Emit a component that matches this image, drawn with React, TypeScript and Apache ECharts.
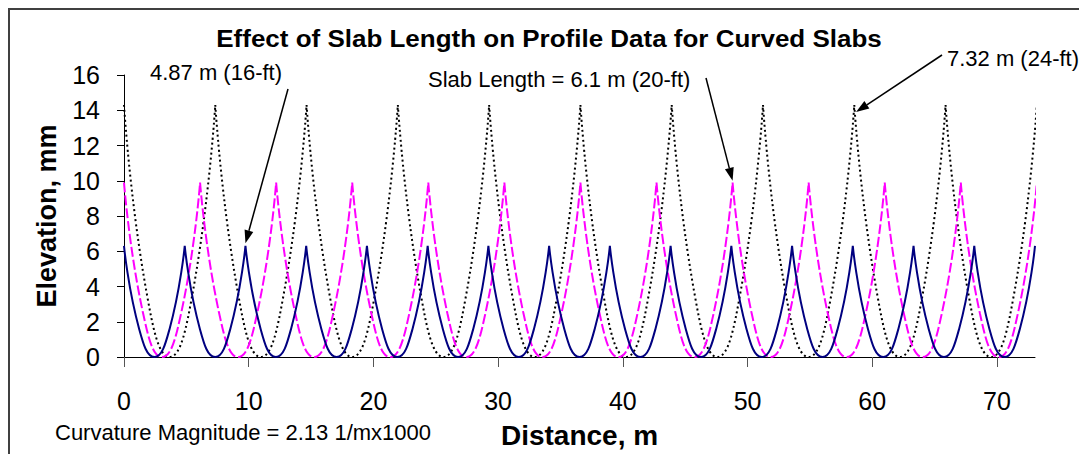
import React, { useEffect, useRef } from 'react';
import * as echarts from 'echarts';

const FONT = '"Liberation Sans", Arial, sans-serif';

const titleText = 'Effect of Slab Length on Profile Data for Curved Slabs';
const xName = 'Distance, m';
const yName = 'Elevation, mm';
const xTicks = [0, 10, 20, 30, 40, 50, 60, 70];

// Slab length 4.87 m (16-ft): one segment per slab, null breaks between slabs
const profile16 = [
  [0, 6.3], [1.22, 1.58], [2.44, 0], [3.65, 1.58], [4.87, 6.3], [4.87, null],
  [4.87, 6.3], [6.09, 1.58], [7.31, 0], [8.52, 1.58], [9.74, 6.3], [9.74, null],
  [9.74, 6.3], [10.96, 1.58], [12.18, 0], [13.39, 1.58], [14.61, 6.3], [14.61, null],
  [14.61, 6.3], [15.83, 1.58], [17.05, 0], [18.26, 1.58], [19.48, 6.3], [19.48, null],
  [19.48, 6.3], [20.7, 1.58], [21.92, 0], [23.13, 1.58], [24.35, 6.3], [24.35, null],
  [24.35, 6.3], [25.57, 1.58], [26.79, 0], [28.0, 1.58], [29.22, 6.3], [29.22, null],
  [29.22, 6.3], [30.44, 1.58], [31.66, 0], [32.87, 1.58], [34.09, 6.3], [34.09, null],
  [34.09, 6.3], [35.31, 1.58], [36.53, 0], [37.74, 1.58], [38.96, 6.3], [38.96, null],
  [38.96, 6.3], [40.18, 1.58], [41.4, 0], [42.61, 1.58], [43.83, 6.3], [43.83, null],
  [43.83, 6.3], [45.05, 1.58], [46.27, 0], [47.48, 1.58], [48.7, 6.3], [48.7, null],
  [48.7, 6.3], [49.92, 1.58], [51.14, 0], [52.35, 1.58], [53.57, 6.3], [53.57, null],
  [53.57, 6.3], [54.79, 1.58], [56.01, 0], [57.22, 1.58], [58.44, 6.3], [58.44, null],
  [58.44, 6.3], [59.66, 1.58], [60.88, 0], [62.09, 1.58], [63.31, 6.3], [63.31, null],
  [63.31, 6.3], [64.53, 1.58], [65.75, 0], [66.96, 1.58], [68.18, 6.3], [68.18, null],
  [68.18, 6.3], [69.4, 1.58], [70.62, 0], [71.83, 1.58], [73.05, 6.3],
];

// Slab length 6.1 m (20-ft)
const profile20 = [
  [0, 9.9], [1.53, 2.48], [3.05, 0], [4.58, 2.48], [6.1, 9.9], [6.1, null],
  [6.1, 9.9], [7.63, 2.48], [9.15, 0], [10.68, 2.48], [12.2, 9.9], [12.2, null],
  [12.2, 9.9], [13.73, 2.48], [15.25, 0], [16.78, 2.48], [18.3, 9.9], [18.3, null],
  [18.3, 9.9], [19.83, 2.48], [21.35, 0], [22.88, 2.48], [24.4, 9.9], [24.4, null],
  [24.4, 9.9], [25.93, 2.48], [27.45, 0], [28.98, 2.48], [30.5, 9.9], [30.5, null],
  [30.5, 9.9], [32.03, 2.48], [33.55, 0], [35.08, 2.48], [36.6, 9.9], [36.6, null],
  [36.6, 9.9], [38.13, 2.48], [39.65, 0], [41.18, 2.48], [42.7, 9.9], [42.7, null],
  [42.7, 9.9], [44.23, 2.48], [45.75, 0], [47.28, 2.48], [48.8, 9.9], [48.8, null],
  [48.8, 9.9], [50.33, 2.48], [51.85, 0], [53.38, 2.48], [54.9, 9.9], [54.9, null],
  [54.9, 9.9], [56.43, 2.48], [57.95, 0], [59.48, 2.48], [61.0, 9.9], [61.0, null],
  [61.0, 9.9], [62.53, 2.48], [64.05, 0], [65.58, 2.48], [67.1, 9.9], [67.1, null],
  [67.1, 9.9], [68.63, 2.48], [70.15, 0], [71.68, 2.48], [73.2, 9.9],
];

// Slab length 7.32 m (24-ft)
const profile24 = [
  [0, 14.3], [1.83, 3.58], [3.66, 0], [5.49, 3.58], [7.32, 14.3], [7.32, null],
  [7.32, 14.3], [9.15, 3.58], [10.98, 0], [12.81, 3.58], [14.64, 14.3], [14.64, null],
  [14.64, 14.3], [16.47, 3.58], [18.3, 0], [20.13, 3.58], [21.96, 14.3], [21.96, null],
  [21.96, 14.3], [23.79, 3.58], [25.62, 0], [27.45, 3.58], [29.28, 14.3], [29.28, null],
  [29.28, 14.3], [31.11, 3.58], [32.94, 0], [34.77, 3.58], [36.6, 14.3], [36.6, null],
  [36.6, 14.3], [38.43, 3.58], [40.26, 0], [42.09, 3.58], [43.92, 14.3], [43.92, null],
  [43.92, 14.3], [45.75, 3.58], [47.58, 0], [49.41, 3.58], [51.24, 14.3], [51.24, null],
  [51.24, 14.3], [53.07, 3.58], [54.9, 0], [56.73, 3.58], [58.56, 14.3], [58.56, null],
  [58.56, 14.3], [60.39, 3.58], [62.22, 0], [64.05, 3.58], [65.88, 14.3], [65.88, null],
  [65.88, 14.3], [67.71, 3.58], [69.54, 0], [71.37, 3.58], [73.2, 14.3],
];

const annotations = [
  { text: '4.87 m (16-ft)', x: 142, y: 64.5, from: [280, 81], tip: [9.74, 6.45] },
  { text: 'Slab Length = 6.1 m (20-ft)', x: 420, y: 71.5, from: [698, 70], tip: [48.8, 10.0] },
  { text: '7.32 m (24-ft)', x: 939, y: 50, from: [934, 47], tip: [58.7, 13.9] },
];
const noteText = 'Curvature Magnitude = 2.13 1/mx1000';

export default function App() {
  const ref = useRef<HTMLDivElement>(null);
  useEffect(() => {
    const chart = echarts.init(ref.current!, null, { renderer: 'svg' });
    const lineCommon = { type: 'line', showSymbol: false, symbol: 'none', smooth: 0.5, connectNulls: false, silent: true };
    chart.setOption({
      animation: false,
      backgroundColor: '#fff',
      textStyle: { fontFamily: FONT },
      grid: { left: 116, top: 67, width: 911, height: 285, containLabel: false },
      xAxis: {
        type: 'value', min: 0, max: 73.05, interval: 10,
        name: xName, nameLocation: 'middle', nameGap: 64,
        nameTextStyle: { fontSize: 28, fontWeight: 'bold', color: '#000', fontFamily: FONT },
        axisLine: { show: true, onZero: false, lineStyle: { color: '#000', width: 1 } },
        axisTick: { show: true, length: 10, customValues: xTicks, lineStyle: { color: '#555', width: 1 } },
        axisLabel: { fontSize: 25, color: '#000', margin: 31, customValues: xTicks, fontFamily: FONT },
        splitLine: { show: false },
      },
      yAxis: {
        type: 'value', min: 0, max: 16, interval: 2,
        name: yName, nameLocation: 'middle', nameGap: 64,
        nameTextStyle: { fontSize: 27, fontWeight: 'bold', color: '#000', fontFamily: FONT },
        axisLine: { show: true, lineStyle: { color: '#000', width: 1 } },
        axisTick: { show: true, length: 7, lineStyle: { color: '#000', width: 1 } },
        axisLabel: { fontSize: 25, color: '#000', margin: 24, fontFamily: FONT },
        splitLine: { show: false },
      },
      series: [
        { ...lineCommon, name: '7.32 m', data: profile24, lineStyle: { color: '#000', width: 2, type: [2, 3] } },
        { ...lineCommon, name: '6.1 m', data: profile20, lineStyle: { color: '#FF00FF', width: 2, type: [10, 3] } },
        { ...lineCommon, name: '4.87 m', data: profile16, lineStyle: { color: '#000080', width: 2, type: 'solid' } },
      ],
    });

    const graphics: any[] = [
      {
        type: 'rect', silent: true, z: 100,
        shape: { x: 1, y: 1, width: 1200, height: 600 },
        style: { fill: 'none', stroke: '#404040', lineWidth: 2 },
      },
      {
        type: 'text', x: 541, y: 31, scaleX: 1.13, z: 100,
        style: { text: titleText, fontSize: 23, fontWeight: 'bold', fontFamily: FONT, fill: '#000', align: 'center', verticalAlign: 'middle' },
      },
      {
        type: 'text', x: 47, y: 424, z: 100,
        style: { text: noteText, fontSize: 22, fontFamily: FONT, fill: '#000', align: 'left', verticalAlign: 'middle' },
      },
    ];
    annotations.forEach((a) => {
      graphics.push({
        type: 'text', x: a.x, y: a.y, z: 100,
        style: { text: a.text, fontSize: 22, fontFamily: FONT, fill: '#000', align: 'left', verticalAlign: 'middle' },
      });
      const t = chart.convertToPixel({ gridIndex: 0 }, a.tip) as number[];
      const s = a.from;
      const dx = t[0] - s[0];
      const dy = t[1] - s[1];
      const len = Math.sqrt(dx * dx + dy * dy);
      const ux = dx / len;
      const uy = dy / len;
      const headLen = 13;
      const headHalf = 4.5;
      const bx = t[0] - ux * headLen;
      const by = t[1] - uy * headLen;
      graphics.push({
        type: 'line', z: 100, silent: true,
        shape: { x1: s[0], y1: s[1], x2: bx, y2: by },
        style: { stroke: '#000', lineWidth: 1.5 },
      });
      graphics.push({
        type: 'polygon', z: 100, silent: true,
        shape: { points: [[t[0], t[1]], [bx - uy * headHalf, by + ux * headHalf], [bx + uy * headHalf, by - ux * headHalf]] },
        style: { fill: '#000' },
      });
    });
    chart.setOption({ graphic: graphics });
    return () => chart.dispose();
  }, []);
  return <div ref={ref} style={{ width: 1079, height: 446 }} />;
}
